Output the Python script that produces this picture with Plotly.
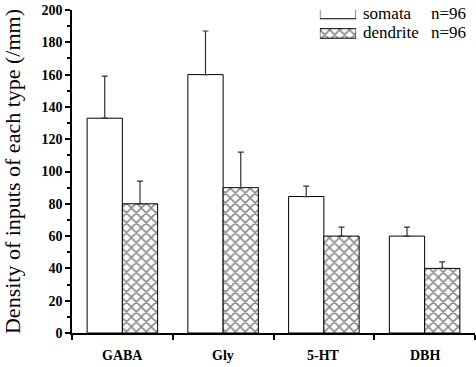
import plotly.graph_objects as go

categories = ["GABA", "Gly", "5-HT", "DBH"]
somata = [133, 160, 84.5, 60]
somata_err = [26, 27, 6.5, 5.5]
dendrite = [80, 90, 60, 40]
dendrite_err = [14, 22, 5.5, 4]
series_names = ["somata", "dendrite"]
n_labels = ["n=96", "n=96"]
y_ticks = list(range(0, 201, 20))

font_fam = "Liberation Serif"
hatch = dict(shape="x", fgcolor="#111", bgcolor="white", size=7, solidity=0.4)

fig = go.Figure()
fig.add_trace(go.Bar(
    x=categories, y=somata, name=series_names[0], showlegend=False,
    marker=dict(color="white", line=dict(color="black", width=1)),
    error_y=dict(type="data", array=somata_err, arrayminus=[0]*4, symmetric=False,
                 color="#333", thickness=1.2, width=3),
    offsetgroup="a",
))
fig.add_trace(go.Bar(
    x=categories, y=dendrite, name=series_names[1], showlegend=False,
    marker=dict(color="white", line=dict(color="black", width=1), pattern=hatch),
    error_y=dict(type="data", array=dendrite_err, arrayminus=[0]*4, symmetric=False,
                 color="#333", thickness=1.2, width=3),
    offsetgroup="b",
))

# legend boxes drawn on a small auxiliary axis
fig.add_trace(go.Bar(
    x=[1], y=[series_names[0]], orientation="h", xaxis="x2", yaxis="y2", showlegend=False,
    width=0.49, marker=dict(color="white", line=dict(color="black", width=1)), hoverinfo="skip",
))
fig.add_trace(go.Bar(
    x=[1], y=[series_names[1]], orientation="h", xaxis="x2", yaxis="y2", showlegend=False,
    width=0.49, marker=dict(color="white", line=dict(color="black", width=1), pattern=hatch),
    hoverinfo="skip",
))

fig.update_layout(
    width=476, height=367,
    margin=dict(l=72, r=1, t=10, b=34, autoexpand=False),
    paper_bgcolor="white", plot_bgcolor="white",
    barmode="group", bargap=0.3, bargroupgap=0,
    font=dict(family=font_fam, color="black"),
    showlegend=False,
    xaxis=dict(
        domain=[0, 1], anchor="y",
        range=[-0.5, 3.5], showline=True, linecolor="black", linewidth=1.5,
        ticks="outside", ticklen=5, tickcolor="black", tickwidth=1.5, tickmode="array",
        tickvals=[-0.5, 0.5, 1.5, 2.5, 3.5], showticklabels=False,
        showgrid=False, zeroline=False, automargin=False,
    ),
    yaxis=dict(
        domain=[0, 1], anchor="x",
        range=[0, 200], showline=True, linecolor="black", linewidth=1.5,
        ticks="outside", ticklen=5, tickcolor="black", tickwidth=1.5,
        tickmode="array", tickvals=y_ticks, ticktext=[f"<b>{v}</b>" for v in y_ticks],
        minor=dict(ticks="outside", ticklen=3, tickcolor="black", tickwidth=1.5,
                   tickmode="linear", tick0=0, dtick=10, showgrid=False),
        tickfont=dict(family=font_fam, size=14),
        showgrid=False, zeroline=False, automargin=False,
        title=dict(text="Density of inputs of each type (/mm)",
                   font=dict(family=font_fam, size=22), standoff=17),
    ),
    xaxis2=dict(domain=[0.615, 0.705], anchor="y2", range=[0, 1], visible=False, fixedrange=True),
    yaxis2=dict(domain=[0.88, 1.0], anchor="x2", visible=False, fixedrange=True,
                categoryorder="array", categoryarray=[series_names[1], series_names[0]],
                range=[-0.785, 1.205]),
)
for c in categories:
    fig.add_annotation(x=c, y=0, xref="x", yref="paper", yanchor="middle", yshift=-22,
                       text=f"<b>{c}</b>", showarrow=False, font=dict(family=font_fam, size=14))
leg_y = [0.988, 0.929]
for i in range(2):
    fig.add_annotation(x=0.717, y=leg_y[i], xref="paper", yref="paper", text=series_names[i],
                       showarrow=False, xanchor="left", yanchor="middle",
                       font=dict(family=font_fam, size=17))
    fig.add_annotation(x=0.886, y=leg_y[i], xref="paper", yref="paper", text=n_labels[i],
                       showarrow=False, xanchor="left", yanchor="middle",
                       font=dict(family=font_fam, size=17))

fig.write_html("out.html", config={"displayModeBar": False},
               post_script="document.body.style.margin='0';")
